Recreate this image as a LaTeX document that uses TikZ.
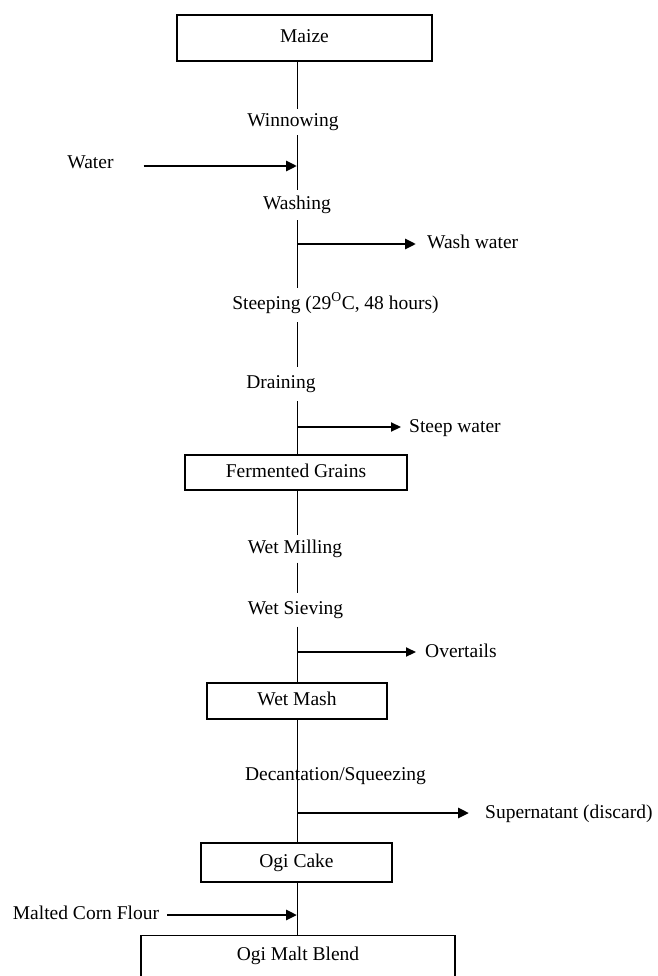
\documentclass[tikz,border=0pt]{standalone}
\usepackage{fontspec}
\setmainfont{Liberation Serif}
\usetikzlibrary{arrows.meta}
\begin{document}
\begin{tikzpicture}[x=1pt,y=-1pt,
  every node/.style={font=\fontsize{19.5}{23}\selectfont},
  lbl/.style={inner sep=0pt, text height=13pt, text depth=4pt, minimum height=#1},
  lbl/.default=28pt,
  side/.style={inner sep=0pt, anchor=west, text height=13pt, text depth=4pt},
  boxn/.style={draw, line width=1.3pt, inner sep=0pt, text height=13pt, text depth=4pt},
  flow/.style={line width=0.8pt},
  arr/.style={line width=2.8pt, -{Triangle[length=11pt,width=10pt]}},
  arrthin/.style={line width=2.2pt, -{Triangle[length=10pt,width=9pt]}}]
\useasboundingbox (0,0) rectangle (657,976);

% boxes
\node[boxn, line width=1.8pt, minimum width=255pt, minimum height=46pt] (maize) at (304.5,38) {Maize};
\node[boxn, minimum width=222pt, minimum height=35pt] (ferm) at (296,472.5) {Fermented Grains};
\node[boxn, minimum width=180pt, minimum height=36pt] (mash) at (297,701) {Wet Mash};
\node[boxn, minimum width=191pt, minimum height=39pt] (cake) at (296.5,862.5) {Ogi Cake};
\node[draw, line width=1.3pt, inner xsep=0pt, inner ysep=12pt, text height=13pt, text depth=40pt,
      minimum width=314pt, anchor=north] (blend) at (298,935) {Ogi Malt Blend};

% process labels
\node[lbl=26pt] (winn) at (293,122) {Winnowing};
\node[lbl=30pt] (wash) at (297,205) {Washing};
\node[lbl=34pt] (steep) at (335.5,305) {Steeping (29\textsuperscript{O}C, 48 hours)};
\node[lbl=34pt] (drain) at (281,384) {Draining};
\node[lbl=27pt] (mill) at (295,549) {Wet Milling};
\node[lbl=33pt] (sieve) at (295.5,610) {Wet Sieving};
\node[inner sep=0pt, text height=13pt, text depth=4pt] (dec) at (335.5,776) {Decantation/Squeezing};

% junction coordinates on the main line
\coordinate (jwater) at (297,166);
\coordinate (jwash) at (297,244);
\coordinate (jsteep) at (297,427);
\coordinate (jover) at (297,652);
\coordinate (jsup) at (297,813);
\coordinate (jmalt) at (297,915);

% main line
\draw[flow] (maize.south -| jwater) -- (winn.north -| jwater);
\draw[flow] (winn.south -| jwater) -- (wash.north -| jwater);
\draw[flow] (wash.south -| jwater) -- (steep.north -| jwater);
\draw[flow] (steep.south -| jwater) -- (drain.north -| jwater);
\draw[flow] (drain.south -| jwater) -- (ferm.north -| jwater);
\draw[flow] (ferm.south -| jwater) -- (mill.north -| jwater);
\draw[flow] (mill.south -| jwater) -- (sieve.north -| jwater);
\draw[flow] (sieve.south -| jwater) -- (mash.north -| jwater);
\draw[flow] (mash.south -| jwater) -- (cake.north -| jwater);
\draw[flow] (cake.south -| jwater) -- (blend.north -| jwater);

% side streams
\node[side, anchor=center] (water) at (90.5,164) {Water};
\draw[arr] ([xshift=30pt]water.east |- jwater) -- (jwater);

\node[side] (washw) at (427,244) {Wash water};
\draw[arr] (jwash) -- ([xshift=-11pt]washw.west);

\node[side] (steepw) at (409,428) {Steep water};
\draw[arrthin] (jsteep) -- ([xshift=-8pt]steepw.west |- jsteep);

\node[side] (over) at (425,653) {Overtails};
\draw[arrthin] (jover) -- ([xshift=-9pt]over.west |- jover);

\node[side] (sup) at (485,814) {Supernatant (discard)};
\draw[arr] (jsup) -- ([xshift=-16pt]sup.west |- jsup);

\node[side, anchor=center] (malt) at (86,915) {Malted Corn Flour};
\draw[arr] ([xshift=8pt]malt.east |- jmalt) -- (jmalt);
\end{tikzpicture}
\end{document}
